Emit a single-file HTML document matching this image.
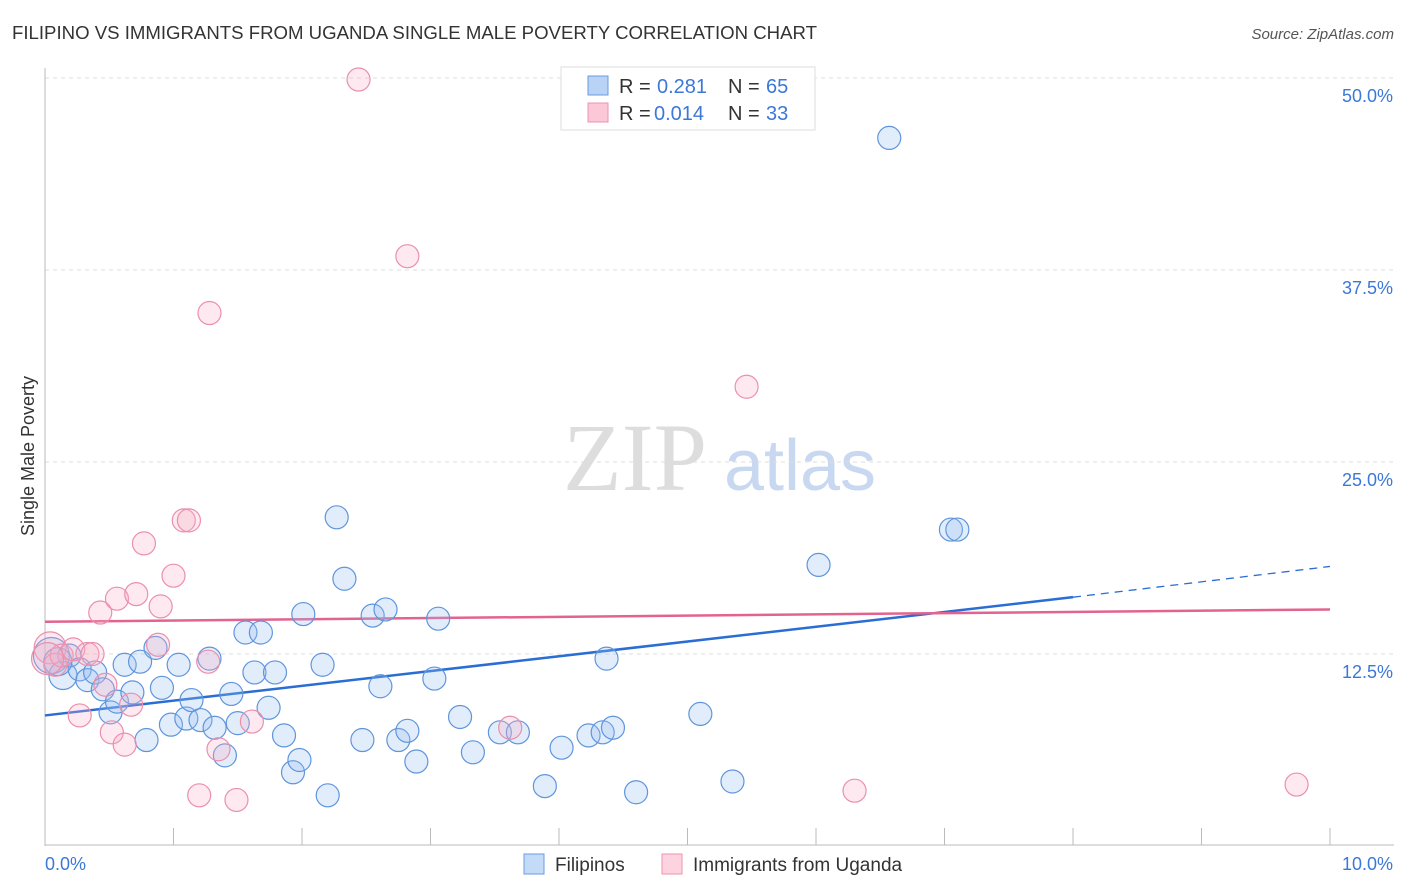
<!DOCTYPE html>
<html><head><meta charset="utf-8">
<style>
body{margin:0;background:#fff;font-family:"Liberation Sans",sans-serif;}
#wrap{position:relative;width:1406px;height:892px;overflow:hidden;}
</style></head>
<body>
<div id="wrap">
<svg id="chart" width="1406" height="892" xmlns="http://www.w3.org/2000/svg">
<text x="12" y="39" font-size="18" fill="#333" textLength="805" lengthAdjust="spacingAndGlyphs">FILIPINO VS IMMIGRANTS FROM UGANDA SINGLE MALE POVERTY CORRELATION CHART</text>
<text x="1394" y="39" font-size="15" fill="#555" font-style="italic" text-anchor="end">Source: ZipAtlas.com</text>
<text x="0" y="0" font-size="18" fill="#333" text-anchor="middle" transform="translate(34,456) rotate(-90)">Single Male Poverty</text>
<g>
<text x="635" y="490" font-size="96" fill="#ddd" font-family="Liberation Serif,serif" text-anchor="middle">ZIP</text>
<text x="800" y="490" font-size="72" fill="#c8d8f0" text-anchor="middle">atlas</text>
</g>
<g id="grid"></g>
<g id="axes"></g>
<g id="lines"></g>
<g id="points"></g>
<g>
<rect x="561" y="67" width="254" height="63" fill="#fff" stroke="#ddd"/>
<rect x="588" y="76" width="20" height="19" fill="#b8d3f5" stroke="#6a9be0"/>
<text x="619" y="93" font-size="20" fill="#333">R = </text>
<text x="657" y="93" font-size="20" fill="#3b78d8">0.281</text>
<text x="728" y="93" font-size="20" fill="#333">N = </text>
<text x="766" y="93" font-size="20" fill="#3b78d8">65</text>
<rect x="588" y="103" width="20" height="19" fill="#fcc8d7" stroke="#ec93b0"/>
<text x="619" y="120" font-size="20" fill="#333">R = </text>
<text x="654" y="120" font-size="20" fill="#3b78d8">0.014</text>
<text x="728" y="120" font-size="20" fill="#333">N = </text>
<text x="766" y="120" font-size="20" fill="#3b78d8">33</text>
</g>
<g>
<rect x="524" y="854" width="20" height="20" fill="#c4dbf7" stroke="#6a9be0"/>
<text x="555" y="871" font-size="19" fill="#333">Filipinos</text>
<rect x="662" y="854" width="20" height="20" fill="#fdd3df" stroke="#ec93b0"/>
<text x="693" y="871" font-size="19" fill="#333">Immigrants from Uganda</text>
</g>
</svg>
</div>
<script>
const blueX=[0.05,0.14,0.19,0.27,0.33,0.39,0.45,0.51,0.56,0.62,0.68,0.74,0.79,0.86,0.91,0.98,1.04,1.10,1.14,1.21,1.28,1.32,1.40,1.45,1.50,1.56,1.63,1.68,1.74,1.79,1.86,1.93,1.98,2.01,2.16,2.20,2.27,2.33,2.47,2.55,2.61,2.65,2.75,2.82,2.89,3.03,3.06,3.23,3.33,3.54,3.68,3.89,4.02,4.23,4.34,4.37,4.42,4.60,5.10,5.35,6.02,6.57,7.05,7.10,0.10];
const blueY=[12.4,11.1,12.4,11.5,10.8,11.3,10.2,8.7,9.4,11.8,10.0,12.0,6.9,12.9,10.3,7.9,11.8,8.3,9.5,8.2,12.2,7.7,5.9,9.9,8.0,13.9,11.3,13.9,9.0,11.3,7.2,4.8,5.6,15.1,11.8,3.3,21.4,17.4,6.9,15.0,10.4,15.4,6.9,7.5,5.5,10.9,14.8,8.4,6.1,7.4,7.4,3.9,6.4,7.2,7.4,12.2,7.7,3.5,8.6,4.2,18.3,46.1,20.6,20.6,12.0];
const blueR=[18,14,11.5,11.5,11.5,11.5,11.5,11.5,11.5,11.5,11.5,11.5,11.5,11.5,11.5,11.5,11.5,11.5,11.5,11.5,11.5,11.5,11.5,11.5,11.5,11.5,11.5,11.5,11.5,11.5,11.5,11.5,11.5,11.5,11.5,11.5,11.5,11.5,11.5,11.5,11.5,11.5,11.5,11.5,11.5,11.5,11.5,11.5,11.5,11.5,11.5,11.5,11.5,11.5,11.5,11.5,11.5,11.5,11.5,11.5,11.5,11.5,11.5,11.5,14];
const pinkX=[0.04,0.08,0.13,0.22,0.27,0.33,0.37,0.43,0.47,0.52,0.56,0.62,0.67,0.71,0.77,0.88,0.90,1.00,1.08,1.12,1.20,1.27,1.28,1.35,1.49,1.61,2.44,2.82,3.62,5.46,6.30,9.74,0.02];
const pinkY=[12.9,11.8,12.4,12.8,8.5,12.5,12.5,15.2,10.5,7.4,16.1,6.6,9.2,16.4,19.7,13.1,15.6,17.6,21.2,21.2,3.3,12.0,34.7,6.3,3.0,8.1,49.9,38.4,7.7,29.9,3.6,4.0,12.2];
const yTicks=[12.5,25.0,37.5,50.0];
const blueTrend=[8.5,16.2,18.2];
const pinkTrend=[14.6,15.4];

const NS="http://www.w3.org/2000/svg";
const X=v=>45+v*128.5;
const Y=v=>846-v*15.36;
function mk(tag,attrs,parent){const e=document.createElementNS(NS,tag);for(const k in attrs)e.setAttribute(k,attrs[k]);document.getElementById(parent).appendChild(e);return e;}

yTicks.forEach((t,i)=>{
 const l=mk('line',{x1:45,x2:1394,y1:Y(t),y2:Y(t),stroke:'#ddd','stroke-dasharray':'4,4'},'grid');
 
 
 const tx=mk('text',{x:1393,y:Y(t)+24,'font-size':18,fill:'#3b78d8','text-anchor':'end'},'grid');
 tx.textContent=t.toFixed(1)+'%';
 
 
});
let a=mk('line',{x1:45,x2:45,y1:68,y2:846,stroke:'#bbb'},'axes');


a=mk('line',{x1:45,x2:1394,y1:845,y2:845,stroke:'#bbb'},'axes');


for(let i=1;i<=10;i++){
 const t=mk('line',{x1:X(i),x2:X(i),y1:828,y2:845,stroke:'#bbb'},'axes');
 
 
}
let xl=mk('text',{x:45,y:870,'font-size':18,fill:'#3b78d8'},'axes');xl.textContent='0.0%';


xl=mk('text',{x:1393,y:870,'font-size':18,fill:'#3b78d8','text-anchor':'end'},'axes');xl.textContent='10.0%';



blueX.forEach((v,i)=>{
 const c=mk('circle',{cx:X(v),cy:Y(blueY[i]),r:blueR[i],fill:'rgba(150,192,242,0.28)',stroke:'#5f95dc','stroke-width':1.2},'points');
 
 
});
pinkX.forEach((v,i)=>{
 const c=mk('circle',{cx:X(v),cy:Y(pinkY[i]),r:(i==0||i==32)?16:11.5,fill:'rgba(248,175,198,0.28)',stroke:'#eb8fae','stroke-width':1.2},'points');
 
 
});
let t=mk('line',{x1:X(0),y1:Y(blueTrend[0]),x2:X(8),y2:Y(blueTrend[1]),stroke:'#2a6dd4','stroke-width':2.5},'lines');


t=mk('line',{x1:X(8),y1:Y(blueTrend[1]),x2:X(10),y2:Y(blueTrend[2]),stroke:'#2a6dd4','stroke-width':1.3,'stroke-dasharray':'8,6'},'lines');


t=mk('line',{x1:X(0),y1:Y(pinkTrend[0]),x2:X(10),y2:Y(pinkTrend[1]),stroke:'#e3638f','stroke-width':2.5},'lines');


</script>
</body></html>
